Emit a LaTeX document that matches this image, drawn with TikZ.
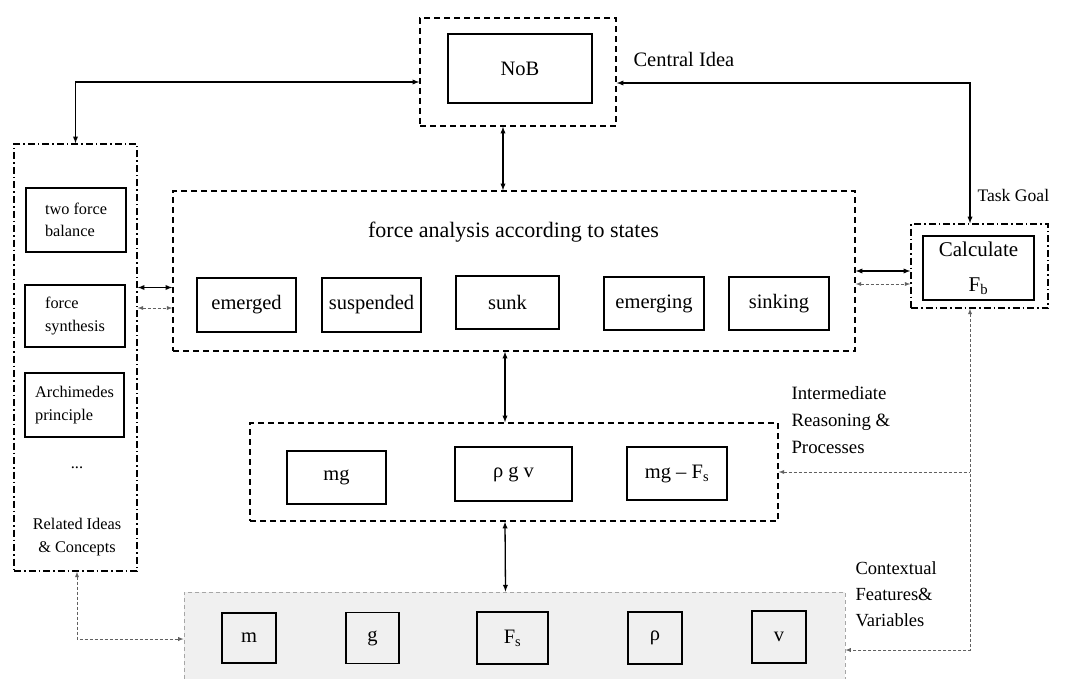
\documentclass[tikz,border=0pt]{standalone}
\usepackage{fontspec}
\setmainfont{Liberation Serif}
\usetikzlibrary{positioning}

\begin{document}
\begin{tikzpicture}[-,>=latex,x=1pt,y=-1pt,
	dims/.style 2 args={minimum width=#1pt,minimum height=#2pt},
	box/.style={draw,line width=1.6pt,inner sep=0pt,align=center,font=\fontsize{20.5}{30}\selectfont},
	small box/.style={box,align=left,font=\fontsize{16.3}{22.5}\selectfont},
	group/.style={draw,line width=1.4pt,dash pattern=on 6pt off 4pt,inner sep=0pt},
	dashdot group/.style={draw,line width=1.4pt,dash pattern=on 7pt off 3pt on 1.5pt off 3pt,inner sep=0pt},
	link/.style={<->,line width=1.3pt},
	grey link/.style={<->,line width=0.9pt,draw=black!62,dash pattern=on 3pt off 2pt}]
	\tikzstyle{every node}=[font=\fontsize{20.5}{24}\selectfont]
	\useasboundingbox (0,0) rectangle (1065,679);
	\clip (0,0) rectangle (1065,679);

	% contextual features
	\draw (514.5,642) node(context) [fill=black!6,draw=black!35,dash pattern=on 4pt off 3pt,line width=0.8pt,dims={661}{100}] {};
	\draw
		(249,638)   node(m)   [box,dims={54}{50}] {m}
		(372.5,638) node(g)   [box,dims={53}{51}] {g}
		(512.5,638) node(fs)  [box,dims={71}{52}] {F\textsubscript{s}}
		(655,638)   node(rho) [box,dims={54}{52}] {ρ}
		(779,637)   node(v)   [box,dims={54}{52}] {v};

	% central idea
	\draw
		(518,72)   node(nobgrp) [group,dims={196}{108}] {}
		(520,68.5) node(nob)    [box,dims={144}{69}] {NoB};

	% related ideas
	\draw
		(75.5,357.5) node(ideas)   [dashdot group,dims={123}{427}] {}
		(76,220)     node(balance) [small box,dims={100}{64}] {two force\\balance}
		(75,316)     node(synth)   [small box,dims={100}{62}] {force\\synthesis}
		(74.5,405)   node(archi)   [small box,dims={99}{64}] {Archimedes\\principle}
		(77,468)     node(dots)    [font=\fontsize{16.3}{20}\selectfont] {...}
		(77,537)     node(related) [align=center,font=\fontsize{16.3}{23}\selectfont] {Related Ideas\\\& Concepts};

	% states
	\draw
		(514,271)     node(states)    [group,dims={682}{160}] {}
		(513.5,232)   node(title)     [font=\fontsize{22}{26}\selectfont] {force analysis according to states}
		(246.5,305)   node(emerged)   [box,dims={99}{54}] {emerged}
		(371.5,305)   node(suspended) [box,dims={99}{54}] {suspended}
		(507.5,302.5) node(sunk)      [box,dims={103}{53}] {sunk}
		(654,303.5)   node(emerging)  [box,dims={100}{53}] {emerging}
		(779,303.5)   node(sinking)   [box,dims={100}{53}] {sinking};

	% task goal
	\draw
		(979.5,266) node(calcgrp) [dashdot group,dims={137}{84}] {}
		(978.5,268) node(calc)    [box,dims={111}{64},font=\fontsize{21}{35}\selectfont] {Calculate\\F\textsubscript{b}};

	% intermediate reasoning
	\draw
		(514,472)   node(inter) [group,dims={528}{98}] {}
		(336.5,477.5) node(mg)  [box,dims={99}{53}] {mg}
		(513.5,474) node(rgv)   [box,dims={117}{54}] {ρ g v}
		(677,473.5) node(mgfs)  [box,dims={100}{53}] {mg -- F\textsubscript{s}};

	% labels
	\node[anchor=west] (central) at (630,59) {Central Idea};
	\node[anchor=west,font=\fontsize{17.6}{20}\selectfont] (goal) at (974,195) {Task Goal};
	\node[anchor=west,align=left,font=\fontsize{18.8}{27}\selectfont] (reasoning) at (788,420) {Intermediate\\Reasoning \&\\Processes};
	\node[anchor=west,align=left,font=\fontsize{18.5}{26}\selectfont] (features) at (852,594) {Contextual\\Features\&\\Variables};

	\coordinate (branch) at ([xshift=-9.5pt]calcgrp.south |- inter.east);

	\draw [link] (ideas.north) |- ([yshift=-10pt]nobgrp.west);
	\draw [link] ([xshift=-9.5pt]calcgrp.north) |- ([yshift=-11pt]nobgrp.east);
	\draw [link] ([xshift=-15pt]nobgrp.south) -- ([xshift=-15pt]nobgrp.south |- states.north);
	\draw [link] ([xshift=-9pt]states.south) -- ([xshift=-9pt]inter.north);
	\draw [link] ([xshift=-9pt]inter.south) -- ([xshift=-9pt]context.north);
	\draw [link] ([yshift=70pt]ideas.east) -- ([yshift=70pt]ideas.east -| states.west);
	\draw [grey link] ([yshift=49.5pt]ideas.east) -- ([yshift=49.5pt]ideas.east -| states.west);
	\draw [link] (states.east) -- (states.east -| calcgrp.west);
	\draw [grey link] ([yshift=-13pt]states.east) -- ([yshift=-13pt]states.east -| calcgrp.west);
	\draw [grey link] ([xshift=-9.5pt]calcgrp.south) |- ([yshift=-8pt]context.east);
	\draw [grey link,<-] (inter.east) -- (branch);
	\draw [grey link] ([xshift=1.5pt]ideas.south) |- ([yshift=3pt]context.west);
\end{tikzpicture}
\end{document}
